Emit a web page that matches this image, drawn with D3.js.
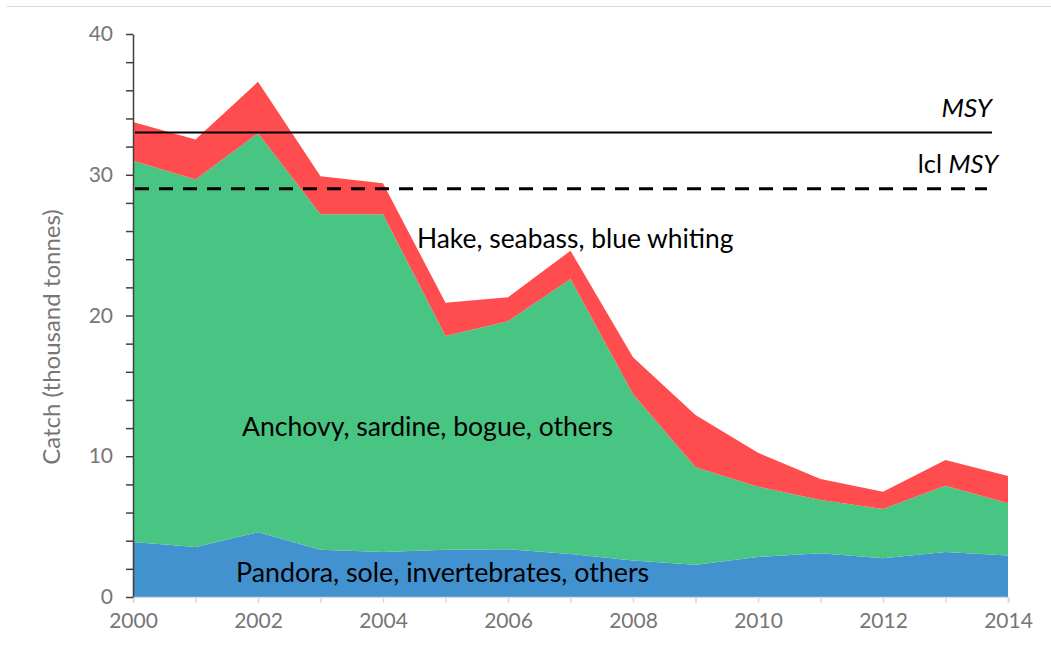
<!DOCTYPE html>
<html>
<head>
<meta charset="utf-8">
<script src="https://cdn.jsdelivr.net/npm/d3@7"></script>
<style>
  html, body { margin: 0; padding: 0; background: #fff; }
  svg { display: block; }
  text { font-family: Lato, "Open Sans", sans-serif; }
</style>
</head>
<body>
<svg id="chart" width="1051" height="651"></svg>
<script>
// ---- data ----
const years = [2000, 2001, 2002, 2003, 2004, 2005, 2006, 2007, 2008, 2009, 2010, 2011, 2012, 2013, 2014];
const pandora = [3.9, 3.55, 4.6, 3.35, 3.2, 3.35, 3.4, 3.05, 2.6, 2.3, 2.85, 3.1, 2.75, 3.2, 2.95];
const anchovy = [27.1, 26.12, 28.34, 23.85, 24.0, 15.19, 16.19, 19.55, 11.82, 6.91, 4.99, 3.8, 3.5, 4.71, 3.71];
const hake = [2.75, 2.83, 3.66, 2.7, 2.2, 2.36, 1.71, 2.0, 2.61, 3.72, 2.41, 1.48, 1.23, 1.82, 1.94];
const seriesKeys = ["pandora", "anchovy", "hake"];
const seriesNames = ["Pandora, sole, invertebrates, others", "Anchovy, sardine, bogue, others", "Hake, seabass, blue whiting"];
const seriesColors = ["#4292d0", "#48c583", "#ff4d4f"];
const refNames = ["MSY", "lcl MSY"];
const refValues = [33, 29];
const yTicks = [0, 10, 20, 30, 40];
const xTicks = [2000, 2002, 2004, 2006, 2008, 2010, 2012, 2014];
const yLabel = "Catch (thousand tonnes)";

// ---- layout ----
const svg = d3.select("#chart");
const x = d3.scaleLinear().domain([2000, 2014]).range([133, 1008]);
const y = d3.scaleLinear().domain([0, 40]).range([597, 34]);

// frame line at top
svg.append("line").attr("x1", 7).attr("x2", 1051).attr("y1", 6.5).attr("y2", 6.5)
  .attr("stroke", "#d9d9d9").attr("stroke-width", 1);

const table = years.map((yr, i) => ({ year: yr, pandora: pandora[i], anchovy: anchovy[i], hake: hake[i] }));
const stacked = d3.stack().keys(seriesKeys)(table);
const area = d3.area().x(d => x(d.data.year)).y0(d => y(d[0])).y1(d => y(d[1]));

svg.append("g").selectAll("path").data(stacked).join("path")
  .attr("d", area)
  .attr("fill", (d, i) => seriesColors[i]);

// x axis (light gray)
const xAxis = svg.append("g").attr("transform", `translate(0,${y(0)})`)
  .call(d3.axisBottom(x).tickValues(years).tickSize(6).tickFormat(d => xTicks.includes(d) ? d : ""));
xAxis.select(".domain").attr("stroke", "#d9d9d9").attr("stroke-width", 1.5);
xAxis.selectAll(".tick line").attr("stroke", "#d9d9d9").attr("stroke-width", 1.5);
xAxis.selectAll(".tick text").attr("fill", "#767676").attr("font-size", 21)
  .attr("font-family", "Lato, sans-serif").attr("dy", "1.05em");

// y axis
const yMinor = d3.range(0, 41, 2);
const yAxis = svg.append("g").attr("transform", `translate(${x(2000)},0)`)
  .call(d3.axisLeft(y).tickValues(yMinor).tickSize(7).tickPadding(13).tickSizeOuter(0)
    .tickFormat(d => yTicks.includes(d) ? d : ""));
yAxis.select(".domain").attr("stroke", "#404040").attr("stroke-width", 1.5);
yAxis.selectAll(".tick line").attr("stroke", "#404040").attr("stroke-width", 1.5);
yAxis.selectAll(".tick text").attr("fill", "#767676").attr("font-size", 21)
  .attr("font-family", "Lato, sans-serif");

// y label
svg.append("text")
  .attr("transform", `translate(60,337) rotate(-90)`)
  .attr("text-anchor", "middle")
  .attr("fill", "#767676").attr("font-size", 24)
  .text(yLabel);

// reference lines
svg.append("line").attr("x1", x(2000) + 2).attr("x2", 992)
  .attr("y1", y(refValues[0])).attr("y2", y(refValues[0]))
  .attr("stroke", "#000").attr("stroke-width", 2);
svg.append("line").attr("x1", x(2000) + 2).attr("x2", 987)
  .attr("y1", y(refValues[1])).attr("y2", y(refValues[1]))
  .attr("stroke", "#000").attr("stroke-width", 3).attr("stroke-dasharray", "14,10");

svg.append("text").attr("x", 992).attr("y", 117).attr("text-anchor", "end")
  .attr("font-size", 26).attr("font-style", "italic").attr("fill", "#000").text(refNames[0]);
const lcl = svg.append("text").attr("x", 998).attr("y", 173).attr("text-anchor", "end")
  .attr("font-size", 25.5).attr("fill", "#000");
lcl.append("tspan").text(refNames[1].split(" ")[0] + " ");
lcl.append("tspan").attr("font-style", "italic").text(refNames[1].split(" ")[1]);

// series labels
svg.append("text").attr("x", 417).attr("y", 248).attr("font-size", 26.4).attr("fill", "#000").text(seriesNames[2]);
svg.append("text").attr("x", 242).attr("y", 436).attr("font-size", 26.6).attr("fill", "#000").text(seriesNames[1]);
svg.append("text").attr("x", 236).attr("y", 582).attr("font-size", 26.8).attr("fill", "#000").text(seriesNames[0]);
</script>
</body>
</html>
